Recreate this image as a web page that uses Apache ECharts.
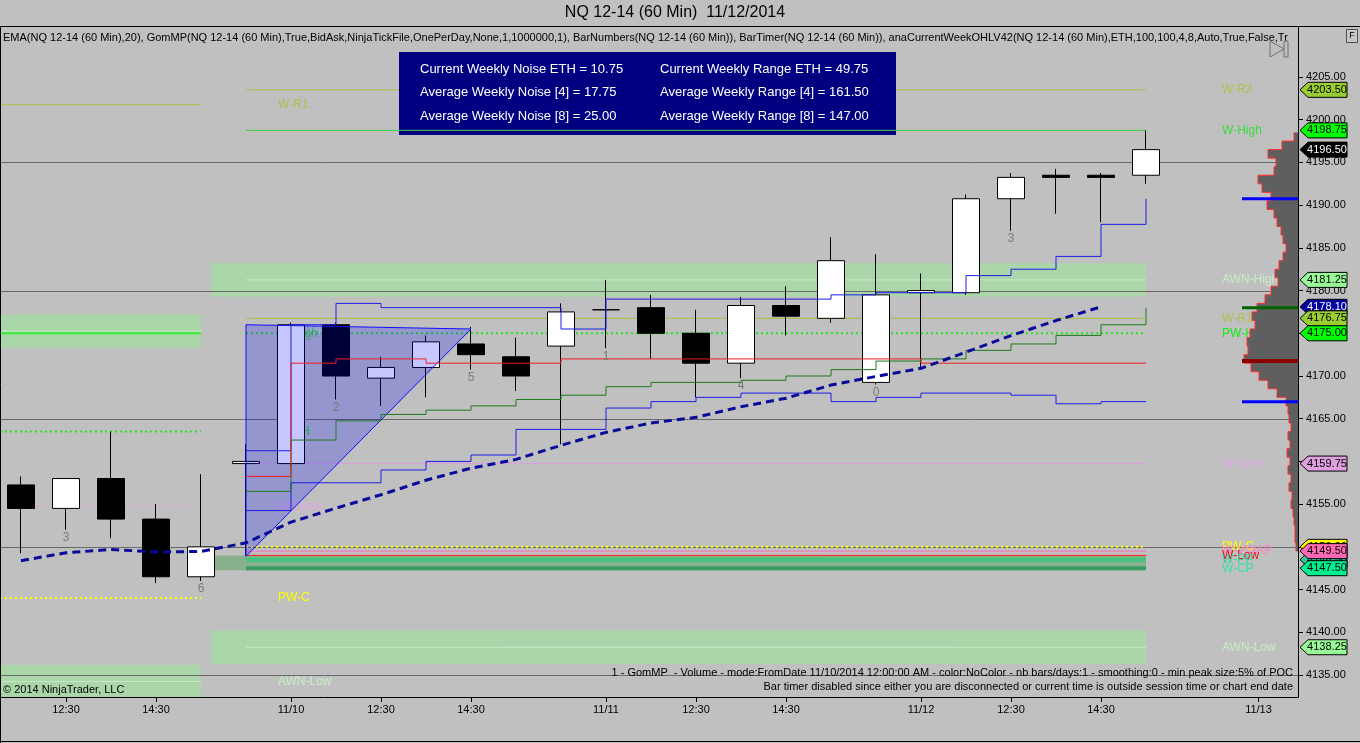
<!DOCTYPE html>
<html>
<head>
<meta charset="utf-8">
<title>NQ 12-14 (60 Min)</title>
<script src="https://cdn.jsdelivr.net/npm/echarts@6.0.0/dist/echarts.min.js"></script>
<style>
html,body{margin:0;padding:0;background:#c0c0c0;overflow:hidden;}
#chart{width:1360px;height:743px;}
</style>
</head>
<body>
<div id="chart"></div>
<script>
// ================= DATA =================
const chartTitle = 'NQ 12-14 (60 Min)  11/12/2014';
const indicatorText = 'EMA(NQ 12-14 (60 Min),20), GomMP(NQ 12-14 (60 Min),True,BidAsk,NinjaTickFile,OnePerDay,None,1,1000000,1), BarNumbers(NQ 12-14 (60 Min)), BarTimer(NQ 12-14 (60 Min)), anaCurrentWeekOHLV42(NQ 12-14 (60 Min),ETH,100,100,4,8,Auto,True,False,Tr';
const copyrightText = '\u00a9 2014 NinjaTrader, LLC';
const footerLines = [
  '1 - GomMP  - Volume - mode:FromDate 11/10/2014 12:00:00 AM - color:NoColor - nb bars/days:1 - smoothing:0 - min peak size:5% of POC',
  'Bar timer disabled since either you are disconnected or current time is outside session time or chart end date'
];
const infoLeft  = ['Current Weekly Noise ETH = 10.75', 'Average Weekly Noise [4] = 17.75', 'Average Weekly Noise [8] = 25.00'];
const infoRight = ['Current Weekly Range ETH = 49.75', 'Average Weekly Range [4] = 161.50', 'Average Weekly Range [8] = 147.00'];

// bars (60 min)
const barIdx = [0,1,2,3,4,5,6,7,8,9,10,11,12,13,14,15,16,17,18,19,20,21,22,23,24,25];
const opens  = [4157.25,4154.50,4158.00,4153.25,4146.50,4159.75,4159.75,4176.00,4169.75,4171.00,4173.75,4172.25,4173.50,4177.75,4178.00,4175.00,4171.50,4178.25,4176.75,4169.25,4179.75,4179.75,4190.75,4193.50,4193.50,4193.50];
const closes = [4154.50,4158.00,4153.25,4146.50,4150.00,4160.00,4176.00,4170.00,4171.00,4174.00,4172.50,4170.00,4177.50,4177.75,4175.00,4171.50,4178.25,4177.00,4183.50,4179.50,4180.00,4190.75,4193.25,4193.25,4193.25,4196.50];
const lows   = [4149.25,4152.00,4151.00,4145.75,4146.00,4149.00,4159.50,4167.25,4166.50,4167.50,4170.75,4168.25,4162.00,4173.25,4172.00,4167.50,4169.75,4174.75,4176.25,4169.00,4170.75,4179.50,4187.00,4189.00,4188.00,4192.50];
const highs  = [4158.25,4158.00,4163.50,4155.00,4158.50,4162.00,4176.25,4176.25,4172.25,4174.75,4175.75,4174.50,4178.50,4181.25,4179.50,4177.75,4179.25,4180.50,4186.25,4184.25,4182.00,4191.25,4193.75,4194.25,4193.75,4198.75];
const barNumText = ['','3','','','6','','','2','','','5','','','1','','','4','','','0','','','3','','',''];

// EMA(20), bars 0..24
const emaValues = [4148.38,4149.30,4149.70,4149.40,4149.46,4150.47,4152.90,4154.53,4156.10,4157.80,4159.21,4160.24,4161.88,4163.40,4164.50,4165.16,4166.40,4167.40,4168.94,4169.95,4170.90,4172.79,4174.73,4176.49,4178.10];

// developing profile lines, bars 5..25
const stepStart = 5;
const vaHigh = [4161.25,4176.00,4178.50,4178.00,4178.00,4178.00,4178.00,4175.50,4179.00,4179.00,4179.00,4179.00,4179.00,4179.50,4179.75,4179.75,4181.75,4182.50,4184.00,4187.75,4190.75];
const vaLow  = [4154.25,4157.50,4157.50,4159.00,4160.00,4160.75,4163.75,4163.75,4166.25,4167.00,4167.50,4168.00,4168.00,4167.00,4167.50,4168.00,4168.00,4167.75,4166.75,4167.00,4167.00];
const midLine= [4156.50,4162.50,4164.75,4165.50,4166.00,4166.50,4167.25,4167.75,4168.75,4169.25,4169.25,4169.50,4170.00,4170.75,4171.75,4172.00,4173.00,4173.75,4174.75,4176.00,4178.00];
const pocLine= [4158.25,4171.50,4172.00,4172.00,4171.50,4171.50,4171.50,4172.00,4172.00,4172.00,4172.00,4172.00,4172.00,4172.00,4172.00,4171.50,4171.50,4171.50,4171.50,4171.50,4171.50];

// weekly levels (current week)
const curLevelNames  = ['W-R2','W-High','AWN-High','W-R1','PW-H','W-Open','PW-C','W-VWAP','W-Low','W-PP','W-CP','AWN-Low'];
const curLevelValues = [4203.50,4198.75,4181.25,4176.75,4175.00,4159.75,4150.00,4149.50,4149.00,4148.50,4147.50,4138.25];
// weekly levels (previous week segment)
const prevLevelNames  = ['W-R1','AWN-High','W-High','PW-H','W-Open','PW-C','AWN-Low'];
const prevLevelValues = [4201.75,4175.25,4175.00,4163.50,4154.75,4144.00,4134.25];
const awnHalfWidth = 1.95;
const pivotBand = [4147.25, 4149.00];

// user-drawn triangle (bar index, price)
const triangleVerts = [[5, 4176.00], [10, 4175.50], [5, 4148.90]];

// volume profile (price level, volume)
const profPrices = [4198,4197,4196,4195,4194,4193,4192,4191,4190,4189,4188,4187,4186,4185,4184,4183,4182,4181,4180,4179,4178,4177,4176,4175,4174,4173,4172,4171,4170,4169,4168,4167,4166,4165,4164,4163,4162,4161,4160,4159,4158,4157,4156,4155,4154,4153,4152,4151,4150];
const profVols   = [4,16,30,22,24,40,36,27,31,24,21,17,15,12,15,19,23,20,27,33,41,46,43,48,51,50,54,47,39,30,21,12,10,9,7,10,8,11,8,10,7,9,6,7,5,4,3,3,2];
const profMarkers = [4190.75, 4178.00, 4171.75, 4167.00];

// price axis tags
const tagPrices = [4203.50,4198.75,4196.50,4181.25,4178.10,4176.75,4175.00,4159.75,4150.00,4148.50,4149.50,4147.50,4138.25];

// axes
const gridLevels = [4135, 4150, 4165, 4180, 4195];
const yTickValues = [4135,4140,4145,4150,4155,4160,4165,4170,4175,4180,4185,4190,4195,4200,4205];
const xTickPos    = [1,3,6,8,10,13,15,17,20,22,24,27.5];
const xTickLabels = ['12:30','14:30','11/10','12:30','14:30','11/11','12:30','14:30','11/12','12:30','14:30','11/13'];

// ================= STYLES / LAYOUT =================
const FONT = '"Liberation Sans", Arial, Helvetica, sans-serif';
const xMin = -21/45, xMax = 1277/45;
const yMin = 4132.425, yMax = 4210.853;
const curX0 = 5, curX1 = 25, bandX0 = 4.22, prevX1 = 4;
const curLabelX = 26.69, prevLabelX = 5.71;

const curStyles = {
  'W-R2':    {color:'#adbd3c', width:1, type:'solid', label:'#a8c44c'},
  'W-High':  {color:'#3ccf3c', width:1, type:'solid', label:'#3cdc3c'},
  'AWN-High':{color:'#c9ecc9', width:1, type:'solid', label:'#c6eec6'},
  'W-R1':    {color:'#adbd3c', width:1, type:'solid', label:'#a8c44c'},
  'PW-H':    {color:'#1ee61e', width:2, type:[2,3], label:'#10f010'},
  'W-Open':  {color:'#dca0dc', width:1, type:'solid', label:'#e2a6e2'},
  'PW-C':    {color:'#ffff00', width:2, type:[2,3], label:'#ffff00'},
  'W-VWAP':  {color:'#ff70b8', width:1, type:'solid', label:'#ff80c0'},
  'W-Low':   {color:'#ff1e1e', width:1, type:'solid', label:'#e21414'},
  'W-PP':    {color:'#48c27e', width:5, type:'solid', label:'#2ed6a4'},
  'W-CP':    {color:'#3a9c64', width:4, type:'solid', label:'#30e6a6'},
  'AWN-Low': {color:'#c9ecc9', width:1, type:'solid', label:'#c6eec6'}
};
const prevStyles = {
  'W-R1':    {color:'#adbd3c', width:1, type:'solid', label:'#a8c44c'},
  'AWN-High':{color:'#c9ecc9', width:1, type:'solid', label:'#c6eec6'},
  'W-High':  {color:'#33ee33', width:2, type:'solid', label:'#3cdc3c'},
  'PW-H':    {color:'#1ee61e', width:2, type:[2,3], label:'#10f010'},
  'W-Open':  {color:'#d6aed0', width:1, type:'solid', label:'#e2a6e2'},
  'PW-C':    {color:'#ffff00', width:2, type:[2,3], label:'#ffff00'},
  'AWN-Low': {color:'#c9ecc9', width:1, type:'solid', label:'#c6eec6'}
};
const bandColor = '#aad6aa';
const tagColors = ['#9acd32','#00ff00','#000000','#98fb98','#0000a0','#9acd32','#00ff00','#e0a0e0','#ffff00','#2ecc9a','#ff69b4','#00f090','#98fb98'];
const tagTextColors = ['#000','#000','#fff','#000','#fff','#000','#000','#000','#000','#000','#000','#000','#000'];
const markerColors = ['#0000ff','#006400','#8b0000','#0000ff'];
const markerWidths = [3,3,4,3];
const markerLen = 56;

// ================= BUILD =================
const chart = echarts.init(document.getElementById('chart'), null, {renderer:'canvas'});
const series = [];

function hLine(x0, x1, v, st, z){
  return {type:'line', data:[[x0,v],[x1,v]], symbol:'none', silent:true, z:z,
          lineStyle:{color:st.color, width:st.width, type:st.type}, animation:false};
}
function rectSeries(rects, colors, z){
  return {type:'custom', z:z, silent:true, encode:{x:[0,1], y:[2,3]}, data:rects,
    renderItem(params, api){
      const lo = Math.max(api.value(2), yMin), hi = Math.min(api.value(3), yMax);
      const p0 = api.coord([api.value(0), hi]);
      const p1 = api.coord([api.value(1), lo]);
      return {type:'rect', shape:{x:p0[0], y:p0[1], width:p1[0]-p0[0], height:p1[1]-p0[1]},
              style:{fill:colors[params.dataIndex]}};
    }};
}

// bands
const bandRects = [], bandCols = [];
curLevelNames.forEach((n,k)=>{ if(n.indexOf('AWN')===0){ bandRects.push([bandX0, curX1, curLevelValues[k]-awnHalfWidth, curLevelValues[k]+awnHalfWidth]); bandCols.push(bandColor);} });
prevLevelNames.forEach((n,k)=>{ if(n.indexOf('AWN')===0){ bandRects.push([xMin, prevX1, prevLevelValues[k]-awnHalfWidth, prevLevelValues[k]+awnHalfWidth]); bandCols.push(bandColor);} });
bandRects.push([bandX0, curX1, pivotBand[0], pivotBand[1]]); bandCols.push('#88b08c');
series.push(rectSeries(bandRects, bandCols, 1));

// grid lines
series.push({type:'custom', z:2, silent:true, encode:{y:0}, data:gridLevels.map(v=>[v]),
  renderItem(params, api){
    const a = api.coord([xMin, api.value(0)]), b = api.coord([xMax, api.value(0)]);
    const y = Math.round(a[1]) + 0.5;
    return {type:'line', shape:{x1:a[0], y1:y, x2:b[0], y2:y}, style:{stroke:'#6a6a6a', lineWidth:1}};
  }});

// level lines
curLevelNames.forEach((n,k)=>{ series.push(hLine(curX0, curX1, curLevelValues[k], curStyles[n], n==='W-High'?5:3)); });
prevLevelNames.forEach((n,k)=>{ series.push(hLine(xMin, prevX1, prevLevelValues[k], prevStyles[n], 3)); });

// level labels
const labelItems = [];
curLevelNames.forEach((n,k)=>labelItems.push({x:curLabelX, v:curLevelValues[k], t:n, c:curStyles[n].label}));
prevLevelNames.forEach((n,k)=>labelItems.push({x:prevLabelX, v:prevLevelValues[k], t:n, c:prevStyles[n].label}));
series.push({type:'custom', z:3, silent:true, encode:{x:0,y:1}, data:labelItems.map(o=>[o.x,o.v]),
  renderItem(params, api){
    const o = labelItems[params.dataIndex];
    const c = api.coord([o.x, o.v]);
    return {type:'text', x:c[0], y:c[1], style:{text:o.t, fill:o.c, font:'12px '+FONT, align:'left', verticalAlign:'middle'}};
  }});

// volume profile
series.push({type:'custom', z:3.5, silent:true, xAxisIndex:1, yAxisIndex:0, encode:{x:0,y:1},
  data:[[0, profPrices[0]]],
  renderItem(params, api){
    const pts = [];
    pts.push(api.coord([0, profPrices[0]+0.5]));
    for(let k=0;k<profPrices.length;k++){
      pts.push(api.coord([profVols[k], profPrices[k]+0.5]));
      pts.push(api.coord([profVols[k], profPrices[k]-0.5]));
    }
    pts.push(api.coord([0, profPrices[profPrices.length-1]-0.5]));
    return {type:'group', children:[
      {type:'polygon', shape:{points:pts}, style:{fill:'#5f5f5f'}},
      {type:'polyline', shape:{points:pts.slice(1,-1)}, style:{stroke:'#ff3030', lineWidth:1, fill:null}}
    ]};
  }});
series.push({type:'custom', z:3.6, silent:true, xAxisIndex:1, yAxisIndex:0, encode:{x:0,y:1},
  data:profMarkers.map(p=>[markerLen,p]),
  renderItem(params, api){
    const a = api.coord([api.value(0), api.value(1)]), b = api.coord([0, api.value(1)]);
    return {type:'line', shape:{x1:a[0], y1:a[1], x2:b[0], y2:b[1]},
            style:{stroke:markerColors[params.dataIndex], lineWidth:markerWidths[params.dataIndex]}};
  }});

// candles
series.push({type:'candlestick', z:6, silent:true, barWidth:28,
  encode:{x:0, y:[1,2,3,4]},
  data:barIdx.map(i=>[i, opens[i], closes[i], lows[i], highs[i]]),
  itemStyle:{color:'#ffffff', color0:'#000000', borderColor:'#000000', borderColor0:'#000000', borderColorDoji:'#000000', borderWidth:1},
  animation:false});

// triangle
series.push({type:'custom', z:7, silent:true, encode:{x:0,y:1}, data:[triangleVerts[0]],
  renderItem(params, api){
    const pts = triangleVerts.map(v=>api.coord(v));
    return {type:'polygon', shape:{points:pts}, style:{fill:'rgba(0,0,255,0.22)', stroke:'#1010ff', lineWidth:1}};
  }});

// step lines
function stepSeries(vals, color){
  return {type:'line', step:'end', z:8, silent:true, symbol:'none', animation:false,
          data:vals.map((v,k)=>[stepStart+k, v]), lineStyle:{color:color, width:1}};
}
series.push(stepSeries(vaHigh, '#1c1ce6'));
series.push(stepSeries(vaLow,  '#1c1ce6'));
series.push(stepSeries(midLine,'#1c7a1c'));
series.push(stepSeries(pocLine,'#ec2020'));

// EMA
series.push({type:'line', z:9, silent:true, symbol:'none', animation:false,
  data:emaValues.map((v,i)=>[barIdx[i], v]),
  lineStyle:{color:'#0a0a9a', width:3, type:[8,5]}});

// bar numbers
const numItems = barIdx.filter(i=>barNumText[i]!=='');
series.push({type:'custom', z:9, silent:true, encode:{x:0,y:1}, data:numItems.map(i=>[i, lows[i]]),
  renderItem(params, api){
    const i = numItems[params.dataIndex];
    const c = api.coord([api.value(0), api.value(1)]);
    return {type:'text', x:c[0], y:c[1]+8, style:{text:barNumText[i], fill:'#7a7a7a', font:'12px '+FONT, align:'center', verticalAlign:'middle'}};
  }});

// price tags on axis
series.push({type:'custom', z:10, silent:true, clip:false, encode:{x:0,y:1}, data:tagPrices.map(p=>[xMax,p]),
  renderItem(params, api){
    const i = params.dataIndex;
    const c = api.coord([xMax, api.value(1)]);
    const x = c[0], y = c[1], h = 7.5;
    return {type:'group', children:[
      {type:'polygon', shape:{points:[[x+2,y],[x+10,y-h],[x+49,y-h],[x+49,y+h],[x+10,y+h]]},
       style:{fill:tagColors[i], stroke:'#000', lineWidth:1}},
      {type:'text', x:x+29, y:y, style:{text:tagPrices[i].toFixed(2), fill:tagTextColors[i], font:'11px '+FONT, align:'center', verticalAlign:'middle'}}
    ]};
  }});

// graphic
const graphic = [
  {type:'rect', z:4, shape:{x:399, y:52, width:497, height:83}, style:{fill:'#000080'}},
  {type:'text', z:10, x:675, y:13, style:{text:chartTitle, font:'16px '+FONT, fill:'#000', align:'center', verticalAlign:'middle'}},
  {type:'text', z:10, x:3, y:38, style:{text:indicatorText, font:'11px '+FONT, fill:'#000', verticalAlign:'middle'}},
  {type:'line', z:10, shape:{x1:0, y1:26.5, x2:1360, y2:26.5}, style:{stroke:'#000', lineWidth:1}},
  {type:'line', z:10, shape:{x1:0.5, y1:26.5, x2:0.5, y2:743}, style:{stroke:'#000', lineWidth:1}},
  {type:'line', z:10, shape:{x1:0, y1:741.5, x2:1360, y2:741.5}, style:{stroke:'#000', lineWidth:1}},
  {type:'text', z:10, x:3, y:690, style:{text:copyrightText, font:'11px '+FONT, fill:'#000', verticalAlign:'middle'}},
  {type:'text', z:10, x:1293, y:673, style:{text:footerLines[0], font:'11px '+FONT, fill:'#000', align:'right', verticalAlign:'middle'}},
  {type:'text', z:10, x:1293, y:687, style:{text:footerLines[1], font:'11px '+FONT, fill:'#000', align:'right', verticalAlign:'middle'}},
  {type:'polygon', z:10, shape:{points:[[1270,41],[1284,49],[1270,57]]}, style:{fill:null, stroke:'#707070', lineWidth:1}},
  {type:'rect', z:10, shape:{x:1284, y:41, width:4, height:16}, style:{fill:null, stroke:'#707070', lineWidth:1}},
  {type:'rect', z:10, shape:{x:1346.5, y:29.5, width:11, height:13}, style:{fill:'#c8c8c8', stroke:'#505050', lineWidth:1}},
  {type:'text', z:10, x:1352, y:36, style:{text:'F', font:'9px '+FONT, fill:'#000', align:'center', verticalAlign:'middle'}}
];
infoLeft.forEach((t,k)=>graphic.push({type:'text', z:5, x:420, y:69+k*23.5, style:{text:t, font:'13px '+FONT, fill:'#fff', verticalAlign:'middle'}}));
infoRight.forEach((t,k)=>graphic.push({type:'text', z:5, x:660, y:69+k*23.5, style:{text:t, font:'13px '+FONT, fill:'#fff', verticalAlign:'middle'}}));

const option = {
  animation:false,
  backgroundColor:'#c0c0c0',
  grid:{left:0, right:62, top:27, bottom:46, containLabel:false},
  xAxis:[
    {type:'value', min:xMin, max:xMax, position:'bottom',
     axisLine:{show:true, onZero:false, lineStyle:{color:'#000', width:1}},
     axisTick:{show:true, length:5, customValues:xTickPos, lineStyle:{color:'#000'}},
     axisLabel:{customValues:xTickPos, color:'#000', fontFamily:FONT, fontSize:11, margin:7,
       formatter:(v)=>{ const k = xTickPos.indexOf(v); return k>=0 ? xTickLabels[k] : ''; }},
     splitLine:{show:false}},
    {type:'value', min:0, max:1298, inverse:true, position:'top', show:false}
  ],
  yAxis:[
    {type:'value', min:yMin, max:yMax, position:'right',
     axisLine:{show:true, onZero:false, lineStyle:{color:'#000', width:1}},
     axisTick:{show:true, length:5, customValues:yTickValues, lineStyle:{color:'#000'}},
     axisLabel:{customValues:yTickValues, color:'#000', fontFamily:FONT, fontSize:11, margin:8,
       formatter:(v)=>Number(v).toFixed(2)},
     splitLine:{show:false}}
  ],
  series:series,
  graphic:graphic
};
chart.setOption(option);
</script>
</body>
</html>
